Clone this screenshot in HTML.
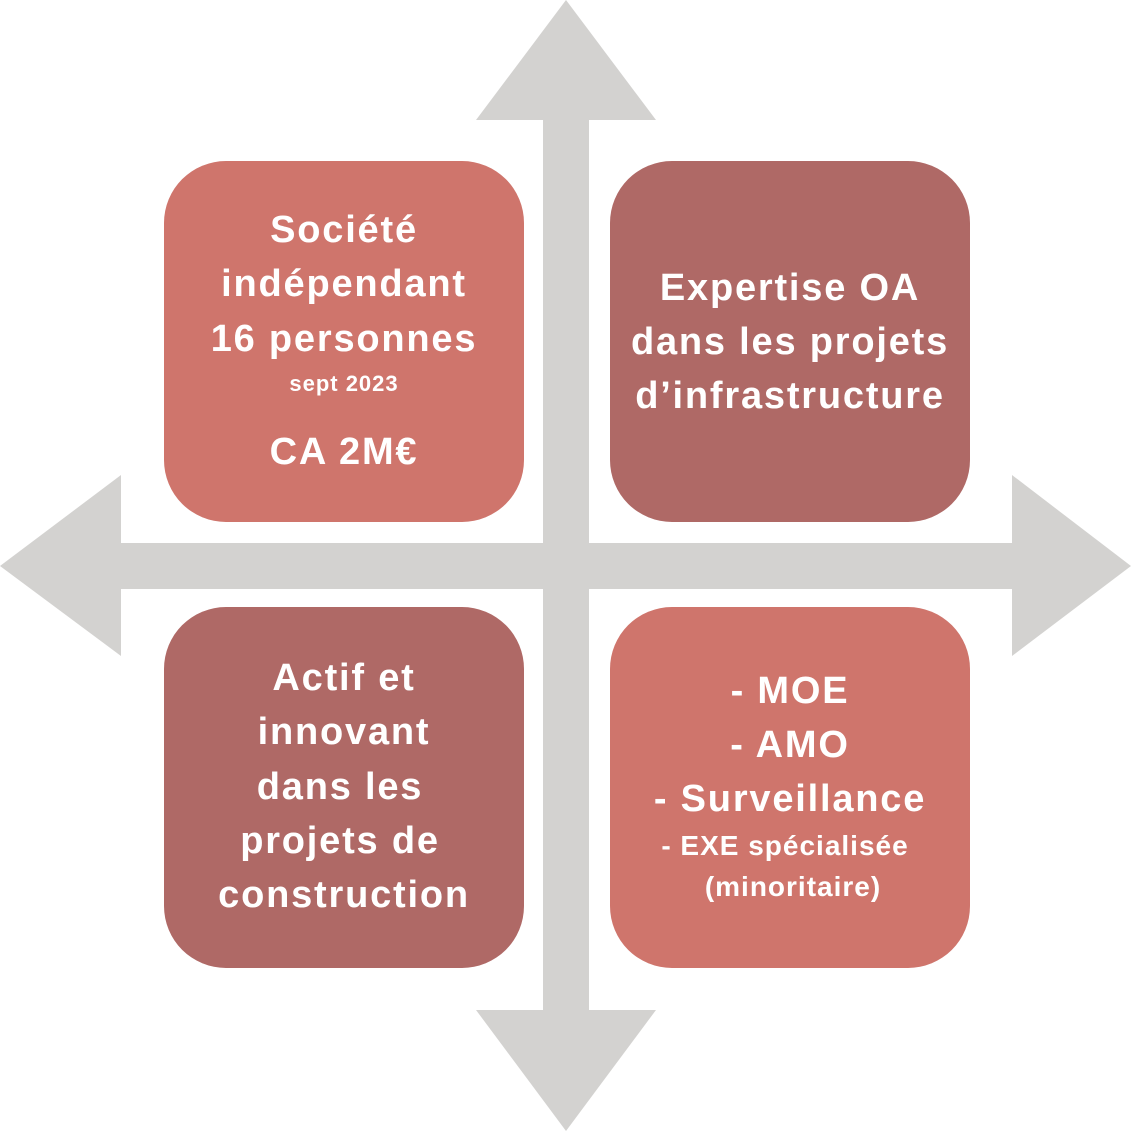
<!DOCTYPE html>
<html><head><meta charset="utf-8"><style>html,body{margin:0;padding:0;background:#fff}svg{display:block}</style></head>
<body>
<svg width="1131" height="1131" viewBox="0 0 1131 1131" xmlns="http://www.w3.org/2000/svg">
<g fill="#D3D2D0">
<rect x="543" y="118" width="46" height="895"/>
<rect x="119" y="543" width="895" height="46"/>
<polygon points="566,0 476,120 656,120"/>
<polygon points="566,1131 476,1010 656,1010"/>
<polygon points="0,566 121,475 121,656"/>
<polygon points="1131,566 1012,475 1012,656"/>
</g>
<rect x="164" y="161" width="360" height="361" rx="62" fill="#CF756C"/>
<rect x="610" y="161" width="360" height="361" rx="62" fill="#AF6966"/>
<rect x="164" y="607" width="360" height="361" rx="62" fill="#AF6966"/>
<rect x="610" y="607" width="360" height="361" rx="62" fill="#CF756C"/>
<g fill="#fff" font-family="Liberation Sans, sans-serif" font-weight="bold" text-anchor="middle" font-size="38" letter-spacing="1.8">
<text x="344" y="242">Société</text>
<text x="344" y="296">indépendant</text>
<text x="344" y="351">16 personnes</text>
<text x="344" y="391" font-size="22" letter-spacing="1">sept 2023</text>
<text x="344" y="464">CA 2M€</text>
<text x="790" y="300">Expertise OA</text>
<text x="790" y="354">dans les projets</text>
<text x="790" y="408">d’infrastructure</text>
<text x="344" y="690">Actif et</text>
<text x="344" y="744">innovant</text>
<text x="340" y="799">dans les</text>
<text x="340" y="853">projets de</text>
<text x="344" y="907">construction</text>
<text x="790" y="703">- MOE</text>
<text x="790" y="757">- AMO</text>
<text x="790" y="811">- Surveillance</text>
<text x="785" y="855" font-size="28" letter-spacing="1">- EXE spécialisée</text>
<text x="793" y="896" font-size="28" letter-spacing="1">(minoritaire)</text>
</g>
</svg>
</body></html>
